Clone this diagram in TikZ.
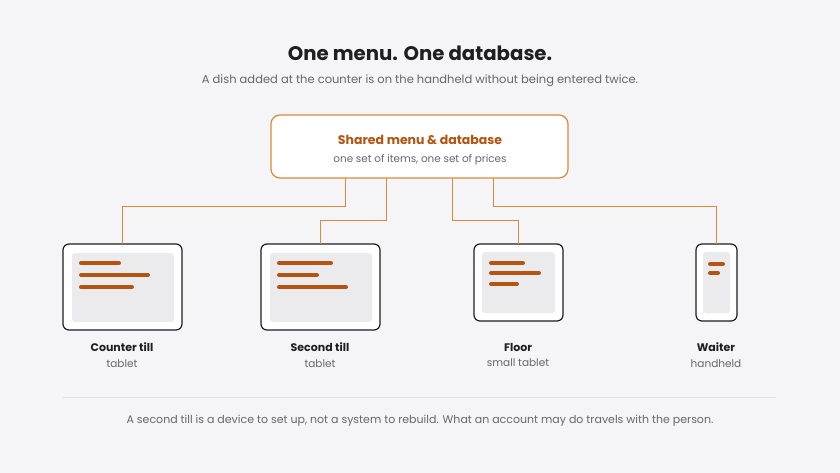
\documentclass[tikz,border=0pt]{standalone}
\usepackage{fontspec}
\setmainfont{Poppins}
\usetikzlibrary{positioning}
\definecolor{bg}{HTML}{F5F5F7}
\definecolor{accent}{HTML}{D98A3A}
\definecolor{brown}{HTML}{B35410}
\definecolor{ink}{HTML}{1E1E24}
\definecolor{muted}{HTML}{66666E}
\definecolor{screen}{HTML}{EBEBED}
\tikzset{%
	hub/.style    = {draw=accent, line width=1.2pt, fill=white, rounded corners=9pt}, % shared store
	device/.style = {draw=ink, line width=1.2pt, fill=white, rounded corners=6pt},
	scr/.style    = {fill=screen, rounded corners=3pt},
	bar/.style    = {draw=brown, line width=4pt, line cap=round},
	link/.style   = {draw=accent, line width=1pt},
	devname/.style = {font=\fontsize{11}{13}\selectfont\bfseries, text=ink},
	devkind/.style = {font=\fontsize{10.5}{12}\selectfont, text=muted},
}
\begin{document}
\begin{tikzpicture}[x=1pt,y=-1pt]
	\fill[bg] (0,0) rectangle (840,473);
	\useasboundingbox (0,0) rectangle (840,473);
	\node[font=\fontsize{19.7}{22}\selectfont\bfseries, text=ink] (title) at (420,53) {One menu. One database.};
	\node[font=\fontsize{11.5}{13}\selectfont, text=muted] (sub) at (420,81) {A dish added at the counter is on the handheld without being entered twice.};
	% shared menu
	\draw[hub] (271,115) rectangle (568,178);
	\node[font=\fontsize{12.5}{14}\selectfont\bfseries, text=brown] (hubt) at (420,140) {Shared menu \& database};
	\node[font=\fontsize{10.4}{11}\selectfont, text=muted] (hubs) at (420,160) {one set of items, one set of prices};
	\coordinate (h1) at (345,178); \coordinate (h2) at (386,178);
	\coordinate (h3) at (452,178); \coordinate (h4) at (493,178);
	% devices
	\draw[device] (63,244) rectangle (182,330);  \fill[scr] (72,253) rectangle (174,322);
	\draw[device] (261,244) rectangle (380,330); \fill[scr] (270,253) rectangle (372,322);
	\draw[device] (474,244) rectangle (563,321); \fill[scr] (482,252) rectangle (555,313);
	\draw[device] (696,244) rectangle (737,321); \fill[scr] (703,252) rectangle (730,313);
	\coordinate (d1) at (122,244); \coordinate (d2) at (320,244);
	\coordinate (d3) at (518,244); \coordinate (d4) at (716,244);
	\draw[link] (h1) -- ++(0,28) -| (d1);
	\draw[link] (h2) -- ++(0,42) -| (d2);
	\draw[link] (h3) -- ++(0,42) -| (d3);
	\draw[link] (h4) -- ++(0,28) -| (d4);
	\draw[bar] (81,263) -- (119,263); \draw[bar] (81,275) -- (148,275); \draw[bar] (81,287) -- (132,287);
	\draw[bar] (279,263) -- (331,263); \draw[bar] (279,275) -- (317,275); \draw[bar] (279,287) -- (346,287);
	\draw[bar] (491,263) -- (523,263); \draw[bar] (491,273) -- (539,273); \draw[bar] (491,284) -- (517,284);
	\draw[bar] (710,264) -- (723,264); \draw[bar] (710,273) -- (718,273);
	\node[devname] (n1) at (122,347) {Counter till}; \node[devkind, below=1pt of n1] {tablet};
	\node[devname] (n2) at (320,347) {Second till}; \node[devkind, below=1pt of n2] {tablet};
	\node[devname] (n3) at (518,347) {Floor}; \node[devkind, below=1pt of n3] {small tablet};
	\node[devname] (n4) at (716,347) {Waiter}; \node[devkind, below=1pt of n4] {handheld};
	\draw[draw=black!12, line width=0.8pt] (63,397) -- (776,397);
	\node[font=\fontsize{11}{13}\selectfont, text=muted] (foot) at (420,421) {A second till is a device to set up, not a system to rebuild. What an account may do travels with the person.};
\end{tikzpicture}
\end{document}
